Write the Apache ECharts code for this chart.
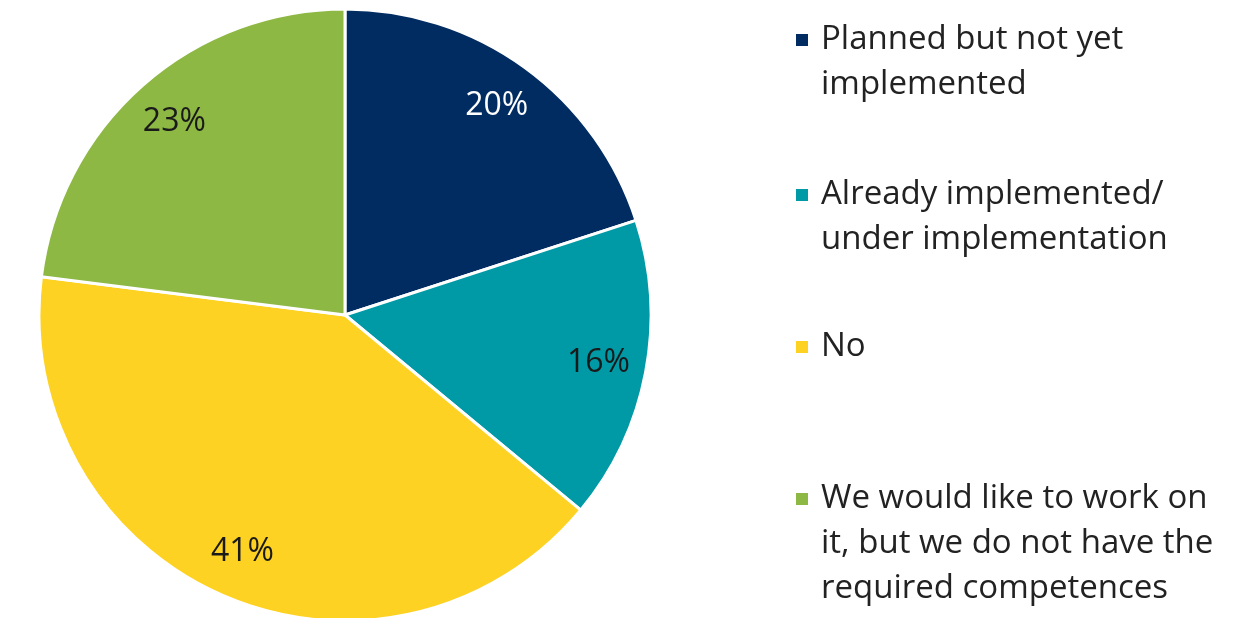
<!DOCTYPE html>
<html><head><meta charset="utf-8">
<script src="https://cdn.jsdelivr.net/npm/echarts@6/dist/echarts.min.js"></script>
<style>html,body{margin:0;padding:0;background:#fff}#c{width:1238px;height:618px}</style>
</head><body><div id="c"></div>
<script>
var categories = ['Planned but not yet implemented', 'Already implemented/ under implementation', 'No', 'We would like to work on it, but we do not have the required competences'];
var legendLabels = ['Planned but not yet\nimplemented', 'Already implemented/\nunder implementation', 'No', 'We would like to work on\nit, but we do not have the\nrequired competences'];
var values = [20, 16, 41, 23];
var colors = ['#002C62', '#009AA6', '#FDD223', '#8DB844'];
var labelColors = ['#ffffff', '#1a1a1a', '#1a1a1a', '#1a1a1a'];
var legendCenters = [40, 195, 347, 499];

var FONT = '"Open Sans", sans-serif';
var LH = 45;
var data = categories.map(function (n, i) { return { name: n, value: values[i], itemStyle: { color: colors[i] } }; });
var labelData = categories.map(function (n, i) { return { name: n, value: values[i], label: { color: labelColors[i] } }; });

var legends = categories.map(function (n, i) {
  var lines = legendLabels[i].split('\n').length;
  var pre = '';
  for (var k = 1; k < lines; k++) pre += ' \n';
  return {
    orient: 'vertical', left: 794, top: legendCenters[i] - (2 * lines - 1) * LH / 2, padding: 0,
    data: [n], icon: 'rect', itemWidth: 14, itemHeight: 14, itemGap: 0, selectedMode: false,
    formatter: function () { return pre + legendLabels[i]; },
    textStyle: { fontFamily: FONT, fontSize: 33, color: '#222', lineHeight: LH, padding: [0, 0, 0, 7] }
  };
});

var chart = echarts.init(document.getElementById('c'));
chart.setOption({
  animation: false,
  legend: legends,
  series: [
    { type: 'pie', center: [345, 315], radius: 306, startAngle: 90, clockwise: true, silent: true,
      data: data, label: { show: false }, labelLine: { show: false },
      itemStyle: { borderColor: '#fff', borderWidth: 3 } },
    { type: 'pie', center: [345, 315], radius: [204, 306], startAngle: 90, clockwise: true, silent: true,
      data: labelData, itemStyle: { color: 'rgba(0,0,0,0)' }, labelLine: { show: false },
      label: { show: true, position: 'inside', fontFamily: FONT, fontSize: 32, formatter: '{c}%' } }
  ]
});
</script></body></html>
